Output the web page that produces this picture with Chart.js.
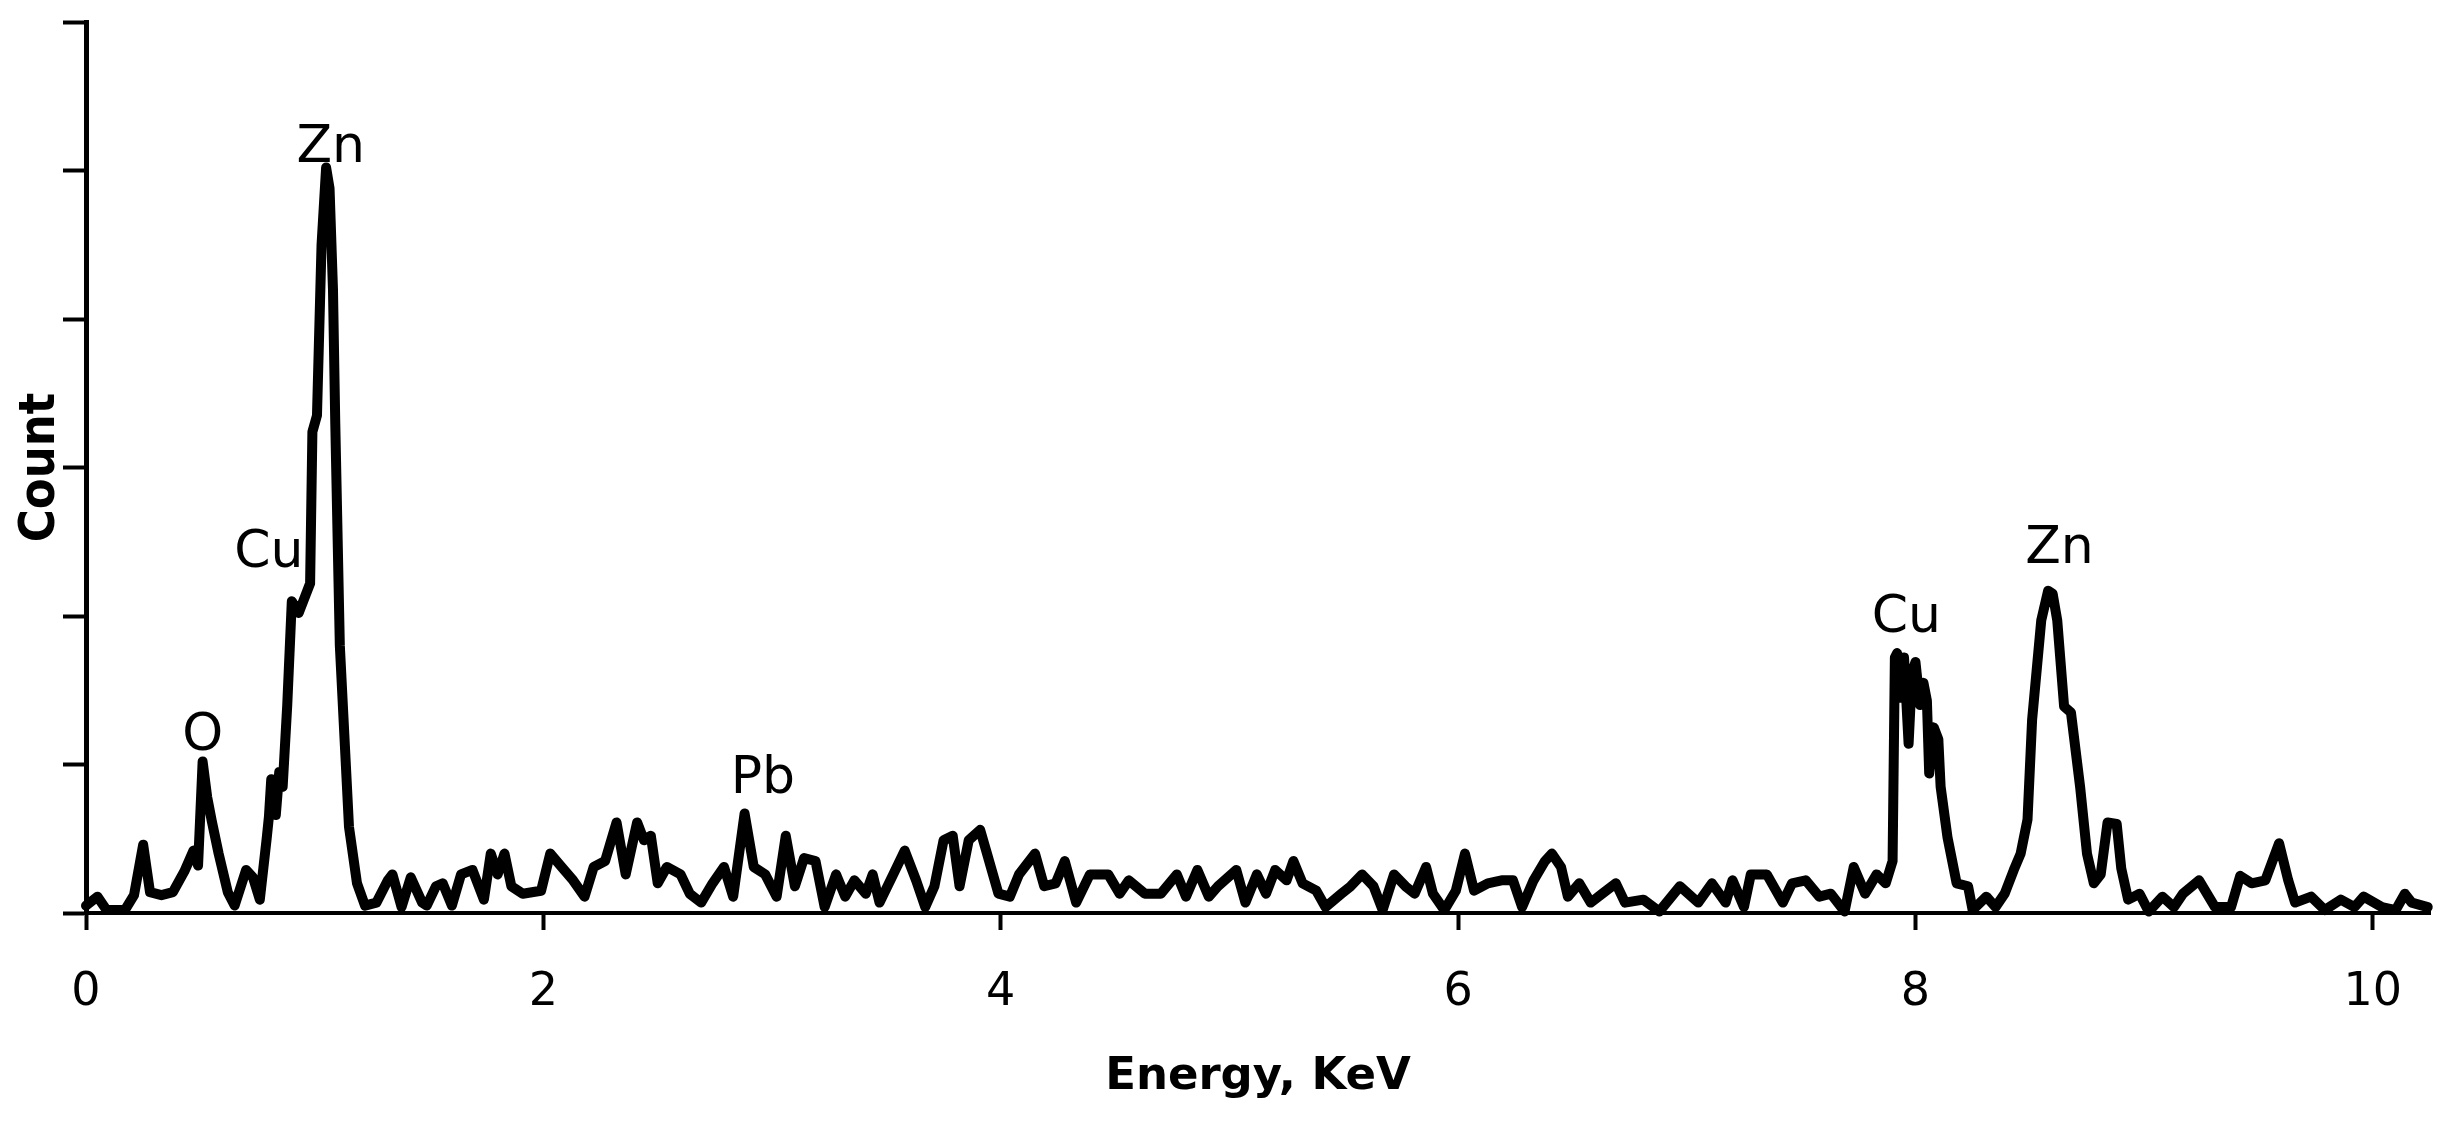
<!DOCTYPE html>
<html>
<head>
<meta charset="utf-8">
<script src="https://cdn.jsdelivr.net/npm/chart.js@4.4.1/dist/chart.umd.min.js"></script>
<style>
  html, body { margin: 0; padding: 0; background: #fff; }
  #chartContainer { width: 2448px; height: 1124px; }
</style>
</head>
<body>
<div id="chartContainer"><canvas id="edsChart" width="2448" height="1124"></canvas></div>
<script>
// EDS spectrum (energy in keV, counts in axis units)
const energy = [
  0.00, 0.05, 0.09, 0.17, 0.21, 0.25, 0.28, 0.33, 0.38, 0.43, 0.47, 0.49, 0.51, 0.53, 0.55, 0.58,
  0.62, 0.65, 0.70, 0.73, 0.76, 0.79, 0.80, 0.81, 0.83, 0.845, 0.86, 0.88, 0.90, 0.93, 0.96, 0.98,
  0.99, 1.01, 1.03, 1.05, 1.065, 1.08, 1.09, 1.11, 1.15, 1.185, 1.22, 1.27, 1.32, 1.34, 1.38, 1.42,
  1.47, 1.49, 1.53, 1.56, 1.60, 1.64, 1.69, 1.74, 1.77, 1.80, 1.83, 1.86, 1.91, 1.99, 2.03, 2.08,
  2.13, 2.18, 2.22, 2.27, 2.32, 2.36, 2.41, 2.44, 2.47, 2.50, 2.54, 2.60, 2.64, 2.69, 2.74, 2.79,
  2.83, 2.88, 2.92, 2.97, 3.02, 3.06, 3.10, 3.14, 3.19, 3.23, 3.28, 3.32, 3.36, 3.41, 3.44, 3.47,
  3.53, 3.58, 3.63, 3.67, 3.71, 3.75, 3.79, 3.82, 3.86, 3.91, 3.94, 3.99, 4.04, 4.08, 4.15, 4.19,
  4.24, 4.28, 4.33, 4.39, 4.47, 4.52, 4.56, 4.63, 4.70, 4.77, 4.81, 4.86, 4.91, 4.95, 5.03, 5.07,
  5.12, 5.16, 5.20, 5.25, 5.28, 5.32, 5.38, 5.42, 5.49, 5.53, 5.58, 5.63, 5.67, 5.72, 5.77, 5.81,
  5.86, 5.89, 5.94, 5.99, 6.03, 6.07, 6.13, 6.19, 6.24, 6.28, 6.33, 6.38, 6.41, 6.45, 6.48, 6.53,
  6.58, 6.63, 6.69, 6.73, 6.81, 6.88, 6.97, 7.05, 7.11, 7.17, 7.20, 7.25, 7.28, 7.35, 7.42, 7.46,
  7.52, 7.58, 7.63, 7.69, 7.73, 7.78, 7.83, 7.87, 7.90, 7.91, 7.92, 7.935, 7.95, 7.97, 7.985, 8.00,
  8.02, 8.035, 8.05, 8.06, 8.08, 8.10, 8.11, 8.14, 8.18, 8.23, 8.25, 8.31, 8.35, 8.39, 8.43, 8.46,
  8.49, 8.51, 8.55, 8.58, 8.60, 8.62, 8.65, 8.68, 8.72, 8.75, 8.78, 8.81, 8.84, 8.88, 8.90, 8.93,
  8.98, 9.02, 9.08, 9.13, 9.17, 9.24, 9.31, 9.38, 9.42, 9.47, 9.53, 9.59, 9.63, 9.66, 9.73, 9.79,
  9.86, 9.92, 9.96, 10.04, 10.10, 10.14, 10.17, 10.24
];
const counts = [
  0.05, 0.11, 0.02, 0.02, 0.12, 0.46, 0.14, 0.12, 0.14, 0.28, 0.42, 0.32, 1.02, 0.78, 0.62, 0.40,
  0.14, 0.05, 0.29, 0.24, 0.09, 0.50, 0.65, 0.90, 0.66, 0.95, 0.85, 1.40, 2.10, 2.02, 2.14, 2.22,
  3.24, 3.35, 4.50, 5.02, 4.88, 4.20, 3.30, 1.80, 0.58, 0.20, 0.05, 0.07, 0.22, 0.26, 0.04, 0.24,
  0.07, 0.05, 0.18, 0.20, 0.05, 0.26, 0.29, 0.09, 0.40, 0.26, 0.40, 0.18, 0.13, 0.15, 0.40, 0.31,
  0.22, 0.11, 0.31, 0.35, 0.61, 0.26, 0.61, 0.49, 0.52, 0.20, 0.31, 0.26, 0.13, 0.07, 0.20, 0.31,
  0.11, 0.67, 0.31, 0.26, 0.11, 0.52, 0.18, 0.37, 0.35, 0.04, 0.26, 0.11, 0.22, 0.13, 0.26, 0.07,
  0.26, 0.42, 0.22, 0.04, 0.18, 0.49, 0.52, 0.18, 0.49, 0.56, 0.40, 0.13, 0.11, 0.26, 0.40, 0.18,
  0.20, 0.35, 0.07, 0.26, 0.26, 0.13, 0.22, 0.13, 0.13, 0.26, 0.11, 0.29, 0.11, 0.18, 0.29, 0.07,
  0.26, 0.13, 0.29, 0.22, 0.35, 0.20, 0.15, 0.04, 0.13, 0.18, 0.26, 0.18, 0.02, 0.26, 0.18, 0.13,
  0.31, 0.13, 0.02, 0.15, 0.40, 0.15, 0.20, 0.22, 0.22, 0.04, 0.22, 0.35, 0.40, 0.31, 0.11, 0.20,
  0.07, 0.13, 0.20, 0.07, 0.09, 0.01, 0.18, 0.07, 0.20, 0.07, 0.22, 0.04, 0.26, 0.26, 0.07, 0.20,
  0.22, 0.11, 0.13, 0.01, 0.31, 0.13, 0.26, 0.20, 0.35, 1.72, 1.75, 1.45, 1.72, 1.14, 1.62, 1.69,
  1.40, 1.55, 1.43, 0.94, 1.25, 1.17, 0.85, 0.51, 0.20, 0.18, 0.02, 0.11, 0.04, 0.13, 0.29, 0.40,
  0.63, 1.30, 1.97, 2.17, 2.15, 1.97, 1.39, 1.35, 0.85, 0.40, 0.20, 0.26, 0.61, 0.60, 0.30, 0.09,
  0.13, 0.01, 0.11, 0.04, 0.13, 0.22, 0.04, 0.04, 0.25, 0.20, 0.22, 0.47, 0.22, 0.07, 0.11, 0.02,
  0.09, 0.04, 0.11, 0.04, 0.02, 0.13, 0.07, 0.04
];

// x tick values and peak labels (label anchored at its baseline, in data units)
const xTicks = [0, 2, 4, 6, 8, 10];
const peakNames = ["O", "Cu", "Zn", "Pb", "Cu", "Zn"];
const peakEnergy = [0.51, 0.80, 1.07, 2.96, 7.96, 8.63];
const peakCount = [1.10, 2.33, 5.06, 0.81, 1.89, 2.36];

const peakLabels = {
  id: "peakLabels",
  afterDatasetsDraw(chart) {
    const ctx = chart.ctx;
    const xs = chart.scales.x;
    const ys = chart.scales.y;
    ctx.save();
    ctx.fillStyle = "#000";
    ctx.font = '52px "DejaVu Sans"';
    ctx.textAlign = "center";
    ctx.textBaseline = "alphabetic";
    peakNames.forEach((name, i) => {
      ctx.fillText(name, xs.getPixelForValue(peakEnergy[i]), ys.getPixelForValue(peakCount[i]));
    });
    ctx.restore();
  },
};

const ctx = document.getElementById("edsChart").getContext("2d");

window.chart = new Chart(ctx, {
  type: "line",
  data: {
    datasets: [
      {
        label: "EDS",
        data: energy.map((e, i) => ({ x: e, y: counts[i] })),
        borderColor: "#000",
        borderWidth: 10,
        borderJoinStyle: "round",
        borderCapStyle: "round",
        pointRadius: 0,
        tension: 0,
        fill: false,
        clip: false,
      },
    ],
  },
  options: {
    responsive: false,
    animation: false,
    events: [],
    layout: {
      padding: { left: 0, right: 18, top: 22, bottom: 0 },
    },
    plugins: {
      legend: { display: false },
      tooltip: { enabled: false },
    },
    scales: {
      x: {
        type: "linear",
        min: 0,
        max: 10.25,
        afterBuildTicks: (scale) => {
          scale.ticks = xTicks.map((v) => ({ value: v }));
        },
        afterFit: (scale) => {
          scale.height = 211;
        },
        ticks: {
          color: "#000",
          font: { family: '"DejaVu Sans"', size: 46 },
          padding: 35,
          maxRotation: 0,
        },
        grid: {
          drawOnChartArea: false,
          drawTicks: true,
          tickLength: 17,
          tickWidth: 4,
          tickColor: "#000",
        },
        border: { display: true, color: "#000", width: 4 },
        title: {
          display: true,
          text: "Energy, KeV",
          color: "#000",
          font: { family: '"DejaVu Sans"', size: 45, weight: "bold" },
          padding: { top: 0, bottom: 20 },
        },
      },
      y: {
        min: 0,
        max: 6,
        ticks: { display: false, stepSize: 1 },
        afterFit: (scale) => {
          scale.width = 86;
        },
        grid: {
          drawOnChartArea: false,
          drawTicks: true,
          tickLength: 23,
          tickWidth: 4,
          tickColor: "#000",
        },
        border: { display: true, color: "#000", width: 5 },
        title: {
          display: true,
          text: "Count",
          color: "#000",
          font: { family: '"Liberation Sans Narrow", "DejaVu Sans Condensed", sans-serif', size: 50, weight: "bold" },
          padding: { top: 11, bottom: 0 },
        },
      },
    },
  },
  plugins: [peakLabels],
});
</script>
</body>
</html>
